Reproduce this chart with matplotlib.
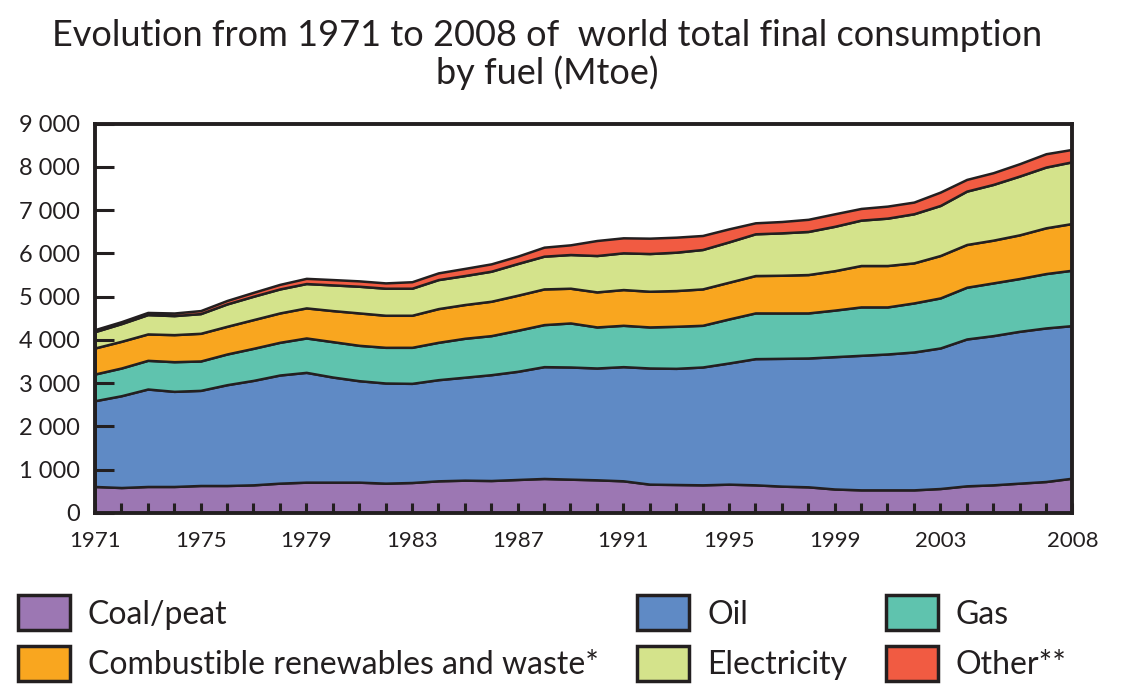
import numpy as np
import matplotlib
matplotlib.use("Agg")
import matplotlib.pyplot as plt
from matplotlib.patches import Patch
from matplotlib.ticker import FuncFormatter

years = np.arange(1971, 2009)

# Mtoe per fuel
coal = [610, 586, 610, 610, 633, 633, 648, 687, 710, 710, 710, 687, 702, 741, 756, 748, 772, 795, 779,
        764, 741, 664, 656, 648, 664, 648, 618, 602, 552, 532, 532, 532, 563, 625, 648, 687, 725, 802]
oil = [1983, 2122, 2253, 2199, 2199, 2330, 2415, 2500, 2538, 2430, 2345, 2315, 2292, 2338, 2380, 2446, 2500, 2585, 2593,
       2585, 2639, 2685, 2685, 2724, 2801, 2917, 2954, 2978, 3059, 3110, 3141, 3187, 3249, 3395, 3449, 3510, 3550, 3527]
gas = [617, 641, 663, 686, 679, 710, 741, 756, 795, 818, 818, 825, 833, 864, 900, 903, 949, 972, 1018,
       949, 956, 949, 972, 964, 1018, 1057, 1049, 1042, 1076, 1119, 1088, 1134, 1157, 1196, 1219, 1220, 1257, 1281]
combustibles = [602, 617, 610, 625, 640, 640, 664, 679, 695, 718, 749, 741, 741, 779, 780, 795, 810, 825, 803,
                810, 826, 825, 826, 841, 849, 864, 872, 887, 911, 957, 957, 926, 980, 988, 988, 1010, 1058, 1080]
electricity = [378, 409, 447, 440, 455, 517, 540, 555, 563, 594, 617, 625, 625, 671, 670, 694, 733, 757, 779,
               841, 849, 872, 887, 911, 933, 965, 980, 996, 1026, 1049, 1095, 1135, 1157, 1234, 1288, 1359, 1404, 1427]
other = [46, 45, 50, 60, 70, 80, 90, 105, 120, 123, 124, 123, 150, 155, 165, 170, 170, 208, 224,
         347, 347, 355, 347, 324, 301, 254, 262, 281, 289, 270, 278, 270, 309, 270, 271, 285, 308, 286]

labels = ["Coal/peat", "Oil", "Gas", "Combustible renewables and waste*", "Electricity", "Other**"]
colors = ["#9c77b3", "#5f8ac5", "#5fc3ae", "#f9a61f", "#d4e38b", "#f15b42"]
edge = "#231f20"

year_labels = [1971, 1975, 1979, 1983, 1987, 1991, 1995, 1999, 2003, 2008]

plt.rcParams["font.family"] = ["Lato", "DejaVu Sans"]

fig = plt.figure(figsize=(11.3, 6.94), dpi=100)
ax = fig.add_axes([0.084, 0.261, 0.865, 0.561])

ax.stackplot(years, coal, oil, gas, combustibles, electricity, other,
             colors=colors, edgecolor=edge, linewidth=1.8)

ax.set_xlim(1971, 2008)
ax.set_ylim(0, 9000)
ax.set_yticks(np.arange(0, 9001, 1000))
ax.yaxis.set_major_formatter(FuncFormatter(lambda v, p: f"{int(v):,}".replace(",", " ")))
ax.set_xticks(year_labels)
ax.set_xticks(years, minor=True)

for s in ax.spines.values():
    s.set_linewidth(2.8)
    s.set_color(edge)
    s.set_zorder(5)

ax.tick_params(axis="y", direction="in", length=14, width=2.2, color=edge, labelsize=17, pad=11)
ax.tick_params(axis="x", which="both", direction="in", length=7, width=2.2, color=edge, labelsize=16, pad=13)
for t in ax.get_yticklabels() + ax.get_xticklabels():
    t.set_color(edge)

fig.text(0.484, 0.973, "Evolution from 1971 to 2008 of  world total final consumption\nby fuel (Mtoe)",
         ha="center", va="top", fontsize=26, color=edge, linespacing=1.14)

handles = [Patch(facecolor=c, edgecolor=edge, linewidth=2.5, label=l) for c, l in zip(colors, labels)]
order = [0, 3, 1, 4, 2, 5]
fig.legend([handles[i] for i in order], [labels[i] for i in order], ncol=3,
           loc="lower left", bbox_to_anchor=(18 / 1130, 13 / 694), frameon=False, fontsize=23,
           borderpad=0, borderaxespad=0,
           handlelength=1.63, handleheight=1.3, handletextpad=0.56, columnspacing=1.2,
           labelspacing=0.5, labelcolor=edge)

fig.savefig("out.png", dpi=100)
